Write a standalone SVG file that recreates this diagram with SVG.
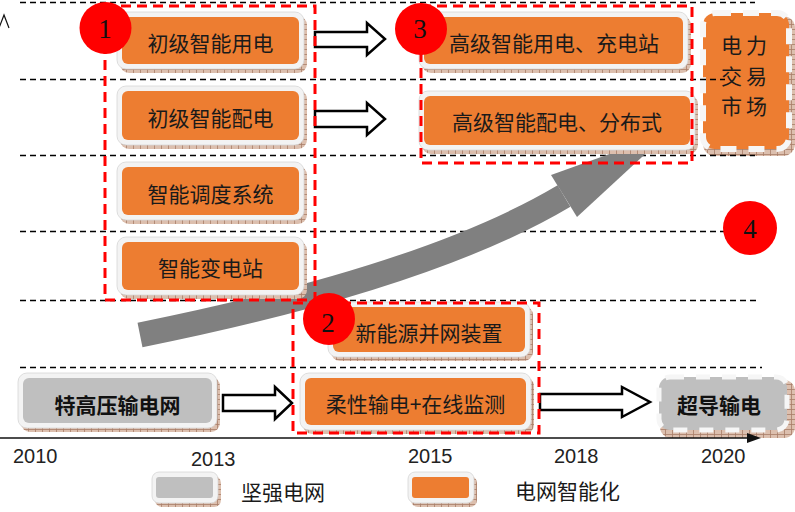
<svg xmlns="http://www.w3.org/2000/svg" width="795" height="512" viewBox="0 0 795 512">
<defs>
<pattern id="grid" width="7" height="5" patternUnits="userSpaceOnUse">
<rect width="7" height="5" fill="#dcbfae"/>
<path d="M0.5 0V5M0 4.5H7" stroke="#a87e68" stroke-width="0.8"/>
</pattern>
</defs>
<style>
.grid{stroke:#000;stroke-width:1.3;stroke-dasharray:6 4;fill:none}
.shadow{fill:url(#grid)}
.outer{fill:#f3f3f3;stroke:#d6d6d6;stroke-width:0.8}
.org{fill:#ED7D31}
.gry{fill:#BFBFBF}
.t{font-family:"Noto Sans CJK SC","Noto Sans",sans-serif;font-size:21px;fill:#1a1a1a;text-anchor:middle}
.b{font-weight:bold;fill:#111}
.yr{font-family:"Liberation Sans",Arial,sans-serif;font-size:20px;fill:#222}
.red{fill:none;stroke:#FF0000;stroke-width:3;stroke-dasharray:10 6}
.circ{fill:#FF0000}
.num{font-family:"Liberation Serif","Times New Roman",serif;font-size:27px;fill:#111;text-anchor:middle}
.blk{fill:#fff;stroke:#000;stroke-width:2.5;stroke-linejoin:miter}
</style>
<rect width="795" height="512" fill="#fff"/>

<!-- market box (under grid lines) -->
<g id="market">
<rect class="shadow" x="703" y="16" width="92" height="140" rx="12"/>
<rect x="703" y="13" width="86" height="136" rx="12" fill="#ED7D31" stroke="#f6f6f6" stroke-width="6" stroke-dasharray="16 12"/>
<text class="t" x="746" y="52.5" letter-spacing="4">电力</text>
<text class="t" x="746" y="83.5" letter-spacing="4">交易</text>
<text class="t" x="746" y="113.5" letter-spacing="4">市场</text>
</g>

<!-- grid lines -->
<g id="gridlines">
<line class="grid" x1="20" y1="2.5" x2="755" y2="2.5"/>
<line class="grid" x1="20" y1="79.5" x2="725" y2="79.5"/>
<line class="grid" x1="20" y1="155.5" x2="755" y2="155.5"/>
<line class="grid" x1="20" y1="231.5" x2="725" y2="231.5"/>
<line class="grid" x1="20" y1="300.5" x2="757" y2="300.5"/>
<line class="grid" x1="20" y1="367.5" x2="762" y2="367.5"/>
<polyline points="-1,28 4,15 9,28" fill="none" stroke="#111" stroke-width="1.2"/>
</g>

<!-- connectors -->
<g id="connectors">
<path d="M140,335 Q428,277 564,196" fill="none" stroke="#808080" stroke-width="25"/>
<polygon points="551,175 668,133 577,217" fill="#808080"/>
<polygon class="blk" points="315,32 367,32 367,23 385,39 367,55 367,47 315,47"/>
<polygon class="blk" points="315,111 367,111 367,103 385,119 367,135 367,127 315,127"/>
<polygon class="blk" points="223,395 275,395 275,387 292,403 275,419 275,411 223,411"/>
<polygon class="blk" points="540,394 622,394 622,387 650,402 622,417 622,410 540,410"/>
</g>

<g id="n-yongdian1">
<rect class="shadow" x="120" y="16" width="187" height="57" rx="9"/>
<rect class="outer" x="117" y="12" width="187" height="57" rx="9"/>
<rect class="org" x="122" y="17" width="177" height="47" rx="6"/>
<text class="t" x="210.5" y="50.5">初级智能用电</text>
</g>
<g id="n-peidian1">
<rect class="shadow" x="120" y="90" width="187" height="59" rx="9"/>
<rect class="outer" x="117" y="86" width="187" height="59" rx="9"/>
<rect class="org" x="122" y="91" width="177" height="49" rx="6"/>
<text class="t" x="210.5" y="125.5">初级智能配电</text>
</g>
<g id="n-diaodu">
<rect class="shadow" x="120" y="166" width="187" height="58" rx="9"/>
<rect class="outer" x="117" y="162" width="187" height="58" rx="9"/>
<rect class="org" x="122" y="167" width="177" height="48" rx="6"/>
<text class="t" x="210.5" y="202">智能调度系统</text>
</g>
<g id="n-biandian">
<rect class="shadow" x="120" y="241" width="187" height="58" rx="9"/>
<rect class="outer" x="117" y="237" width="187" height="58" rx="9"/>
<rect class="org" x="122" y="242" width="177" height="48" rx="6"/>
<text class="t" x="210.5" y="275.5">智能变电站</text>
</g>
<g id="n-yongdian2">
<rect class="shadow" x="422" y="16" width="269" height="57" rx="9"/>
<rect class="outer" x="419" y="12" width="269" height="57" rx="9"/>
<rect class="org" x="424" y="17" width="259" height="47" rx="6"/>
<text class="t" x="554" y="50.5">高级智能用电、充电站</text>
</g>
<g id="n-peidian2">
<rect class="shadow" x="422" y="95" width="276" height="59" rx="9"/>
<rect class="outer" x="419" y="91" width="276" height="59" rx="9"/>
<rect class="org" x="424" y="96" width="266" height="49" rx="6"/>
<text class="t" x="557" y="129.5">高级智能配电、分布式</text>
</g>
<g id="n-xinnengyuan">
<rect class="shadow" x="331" y="306" width="202" height="55" rx="9"/>
<rect class="outer" x="328" y="302" width="202" height="55" rx="9"/>
<rect class="org" x="333" y="307" width="192" height="45" rx="6"/>
<text class="t" x="429" y="340.5">新能源并网装置</text>
</g>
<g id="n-rouxing">
<rect class="shadow" x="303" y="377" width="231" height="57" rx="9"/>
<rect class="outer" x="300" y="373" width="231" height="57" rx="9"/>
<rect class="org" x="305" y="378" width="221" height="47" rx="6"/>
<text class="t" x="415.5" y="412">柔性输电+在线监测</text>
</g>
<g id="n-tegaoya">
<rect class="shadow" x="21" y="377" width="199" height="55" rx="9"/>
<rect class="outer" x="18" y="373" width="199" height="55" rx="9"/>
<rect class="gry" x="23" y="378" width="189" height="45" rx="6"/>
<text class="t b" x="117.5" y="412.5">特高压输电网</text>
</g>
<g id="n-chaodao">
<rect class="shadow" x="660" y="380" width="135" height="58" rx="11"/>
<rect x="659" y="377" width="128" height="53" rx="11" fill="#BFBFBF" stroke="#f6f6f6" stroke-width="5" stroke-dasharray="14 12"/>
<text class="t b" x="719" y="412.5">超导输电</text>
</g>

<!-- phase frames -->
<g id="phase-1"><rect class="red" x="105" y="6" width="210" height="294"/></g>
<g id="phase-2"><rect class="red" x="293" y="303" width="246" height="130"/></g>
<g id="phase-3"><rect class="red" x="421" y="6" width="271" height="157"/></g>

<g id="mark-1"><circle class="circ" cx="105.5" cy="28" r="26"/><text class="num" x="105" y="38">1</text></g>
<g id="mark-2"><circle class="circ" cx="329" cy="319" r="26"/><text class="num" x="328" y="332">2</text></g>
<g id="mark-3"><circle class="circ" cx="421" cy="29" r="26"/><text class="num" x="420" y="38">3</text></g>
<g id="mark-4"><circle class="circ" cx="750" cy="228" r="27"/><text class="num" x="750" y="238">4</text></g>

<!-- time axis -->
<g id="axis">
<line x1="0" y1="438" x2="752" y2="438" stroke="#111" stroke-width="1.5"/>
<polygon points="747,433 761,438 747,443" fill="#111"/>
<text class="yr" x="13" y="463">2010</text>
<text class="yr" x="191" y="466">2013</text>
<text class="yr" x="408" y="463">2015</text>
<text class="yr" x="554" y="463">2018</text>
<text class="yr" x="701" y="463">2020</text>
</g>

<!-- legend -->
<g id="legend-strong">
<rect class="shadow" x="155" y="476" width="66" height="31" rx="7"/>
<rect class="outer" x="152" y="472" width="66" height="31" rx="7"/>
<rect class="gry" x="156" y="477" width="57" height="21" rx="3"/>
<text class="t" x="241" y="500" style="text-anchor:start">坚强电网</text>
</g>
<g id="legend-smart">
<rect class="shadow" x="411" y="476" width="66" height="31" rx="7"/>
<rect class="outer" x="408" y="472" width="66" height="31" rx="7"/>
<rect class="org" x="412" y="477" width="57" height="21" rx="3"/>
<text class="t" x="515" y="499" style="text-anchor:start">电网智能化</text>
</g>
</svg>
